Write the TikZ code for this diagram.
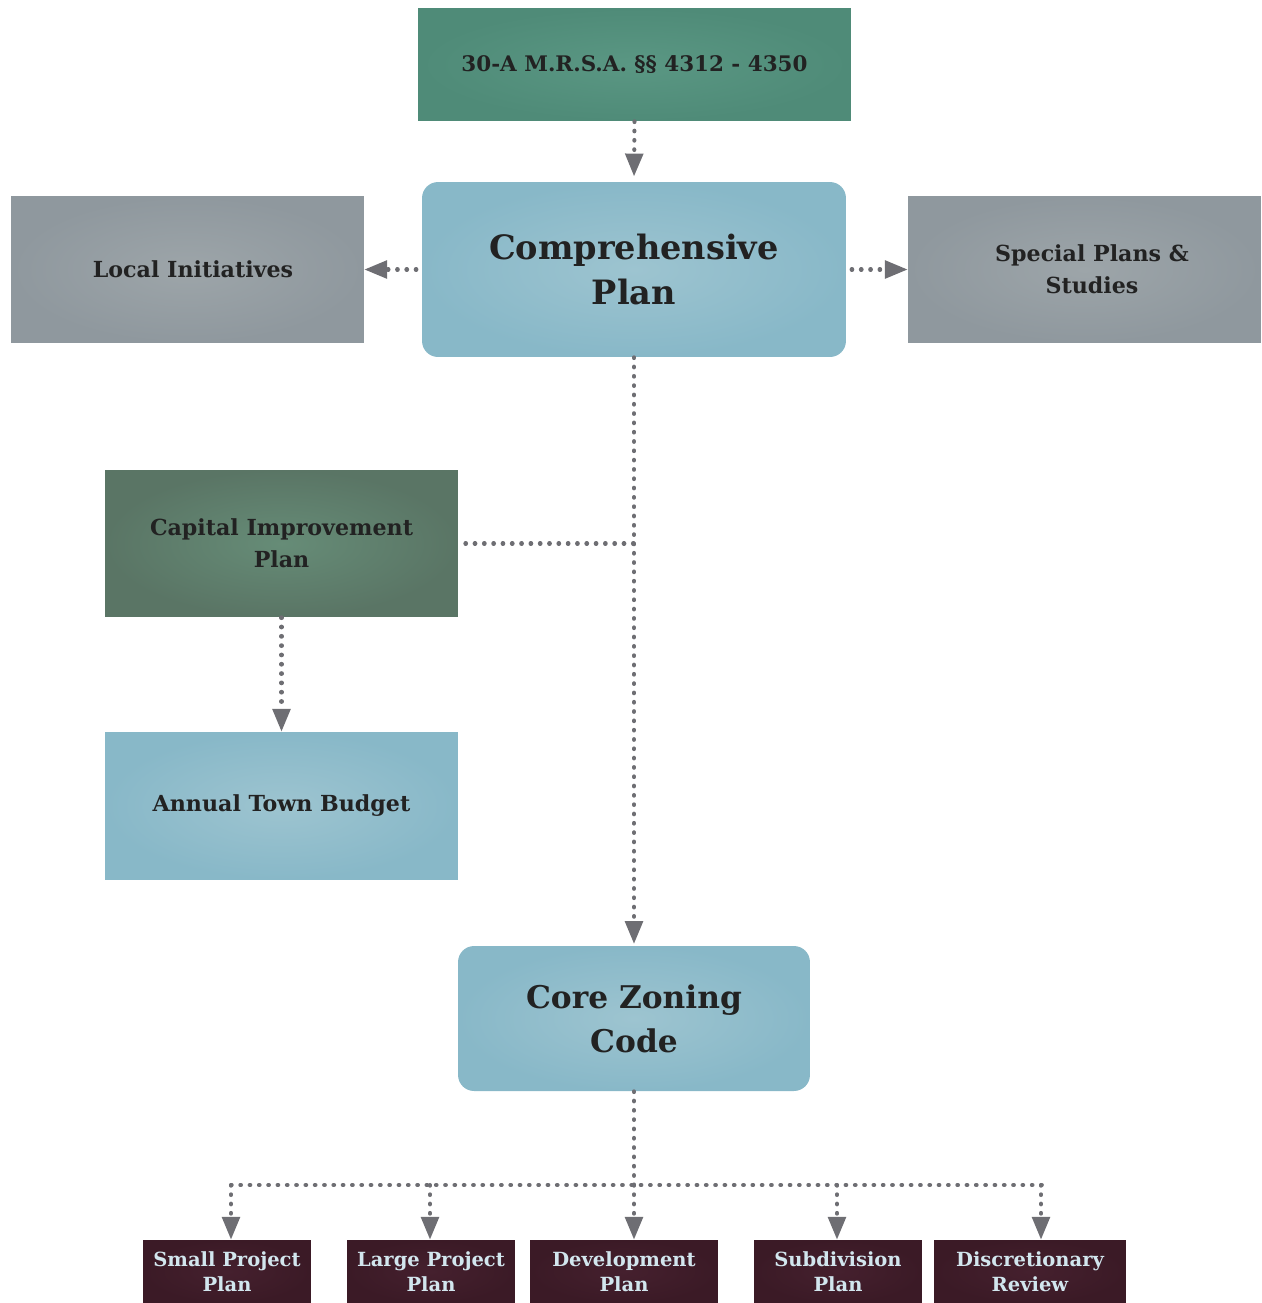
\documentclass[tikz,border=0pt]{standalone}
\usepackage{fontspec}
\setmainfont{DejaVu Serif}
\usetikzlibrary{arrows.meta,shadings}
\definecolor{arrowgray}{HTML}{6E6E73}
\definecolor{txtdark}{HTML}{222222}
\definecolor{txtlight}{HTML}{D2E6EE}
\definecolor{greenA}{HTML}{5A9783}
\definecolor{greenB}{HTML}{4F8B78}
\definecolor{blueA}{HTML}{9DC4D0}
\definecolor{blueB}{HTML}{88B8C8}
\definecolor{grayA}{HTML}{9DA5A9}
\definecolor{grayB}{HTML}{8F989E}
\definecolor{cipA}{HTML}{668C77}
\definecolor{cipB}{HTML}{5A7565}
\definecolor{maroonA}{HTML}{45202E}
\definecolor{maroonB}{HTML}{3B1A26}
\tikzset{
  x=0.02cm, y=-0.02cm,
  box/.style={rectangle, inner sep=0pt, align=center, font=\bfseries, text=txtdark},
  greenbox/.style={box, inner color=greenA, outer color=greenB},
  bluebox/.style={box, inner color=blueA, outer color=blueB},
  graybox/.style={box, inner color=grayA, outer color=grayB},
  cipbox/.style={box, inner color=cipA, outer color=cipB},
  midfont/.style={font=\bfseries\fontsize{12.6}{18}\selectfont},
  maroonbox/.style={box, inner color=maroonA, outer color=maroonB, text=txtlight,
    minimum height=1.26cm, font=\bfseries\fontsize{11.1}{14}\selectfont},
  dotline/.style={draw=arrowgray, line width=2.3pt, line cap=round, dash pattern=on 0.4pt off 4.9pt},
  dotarrow/.style={dotline, -{Triangle[width=10pt,length=13pt]}},
}
\begin{document}
\begin{tikzpicture}
\useasboundingbox (0,0) rectangle (1262,1303);
\node[greenbox, minimum width=8.66cm, minimum height=2.26cm, font=\bfseries\fontsize{12.2}{15}\selectfont] (top) at (634.5,64.5) {30-A M.R.S.A. §§ 4312 - 4350};
\node[bluebox, rounded corners=0.32cm, minimum width=8.48cm, minimum height=3.5cm, font=\bfseries\fontsize{19.1}{25.5}\selectfont] (cp) at (634,269.5) {Comprehensive\\Plan};
\node[graybox, midfont, minimum width=7.06cm, minimum height=2.94cm] (li) at (187.5,269.5) {\hspace*{0.22cm}Local Initiatives};
\node[graybox, midfont, minimum width=7.06cm, minimum height=2.94cm] (sp) at (1084.5,269.5) {\hspace*{0.3cm}Special Plans \&\\\hspace*{0.3cm}Studies};
\node[cipbox, midfont, minimum width=7.06cm, minimum height=2.94cm] (cip) at (281.5,543.5) {Capital Improvement\\Plan};
\node[bluebox, midfont, minimum width=7.06cm, minimum height=2.94cm] (atb) at (281.5,805.5) {Annual Town Budget};
\node[bluebox, rounded corners=0.32cm, minimum width=7.04cm, minimum height=2.9cm, font=\bfseries\fontsize{17.8}{25}\selectfont] (cz) at (634,1018.5) {Core Zoning\\Code};
\node[maroonbox, minimum width=3.36cm] (b1) at (227,1271.5) {Small Project\\Plan};
\node[maroonbox, minimum width=3.36cm] (b2) at (431,1271.5) {Large Project\\Plan};
\node[maroonbox, minimum width=3.76cm] (b3) at (624,1271.5) {Development\\Plan};
\node[maroonbox, minimum width=3.36cm] (b4) at (838,1271.5) {Subdivision\\Plan};
\node[maroonbox, minimum width=3.84cm] (b5) at (1030,1271.5) {Discretionary\\Review};
% connectors
\draw[dotarrow, shorten >=3pt] (top.south) -- (cp.north);
\draw[dotarrow, shorten <=3pt] (cp.west) -- (li.east);
\draw[dotarrow, shorten <=3pt] (cp.east) -- (sp.west);
\draw[dotarrow, shorten >=1pt] (cp.south) -- (cz.north);
\coordinate (j1) at (cp.south |- cip.east);
\draw[dotline, shorten <=4pt] (cip.east) -- (j1);
\draw[dotarrow] (cip.south) -- (atb.north);
\coordinate (hub) at (634,1185);
\coordinate (hl) at (231,1185);
\coordinate (hr) at (1042,1185);
\draw[dotline] (cz.south) -- (hub);
\draw[dotline] (hl) -- (hr);
\coordinate (d1) at (231,1185);
\coordinate (d2) at (430,1185);
\coordinate (d3) at (634,1185);
\coordinate (d4) at (837,1185);
\coordinate (d5) at (1041,1185);
\draw[dotarrow] (d1) -- (d1 |- b1.north);
\draw[dotarrow] (d2) -- (d2 |- b2.north);
\draw[dotarrow] (d3) -- (d3 |- b3.north);
\draw[dotarrow] (d4) -- (d4 |- b4.north);
\draw[dotarrow] (d5) -- (d5 |- b5.north);
\end{tikzpicture}
\end{document}
